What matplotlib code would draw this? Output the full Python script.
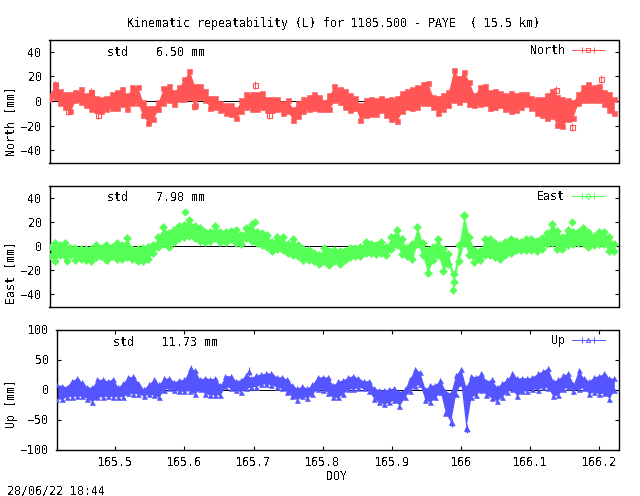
import numpy as np
import matplotlib
matplotlib.use("Agg")
import matplotlib.pyplot as plt

plt.rcParams['font.family'] = 'DejaVu Sans Mono'
plt.rcParams['font.size'] = 8.4
plt.rcParams['text.antialiased'] = False

W, H = 640, 496
DOY_START, DOY_END = 165.415, 166.228
N_SAMPLES = 110
tick_doy = [165.5, 165.6, 165.7, 165.8, 165.9, 166.0, 166.1, 166.2]
tick_doy_labels = ['165.5', '165.6', '165.7', '165.8', '165.9', '166', '166.1', '166.2']
north_ticks = [-40, -20, 0, 20, 40]
east_ticks = [-40, -20, 0, 20, 40]
up_ticks = [-100, -50, 0, 50, 100]

north_hi = [5,14,9,6,6,8,10,5,8,3,2,3,6,8,10,5,12,12,0,-5,-5,0,11,13,8,12,18,25,13,13,9,3,3,-1,-3,-3,-6,1,6,6,6,7,2,2,2,-1,1,-6,-1,2,4,6,4,
            0,5,13,10,9,5,3,-3,1,2,1,3,1,2,3,7,9,10,12,14,15,4,3,5,8,26,19,24,16,5,12,13,8,9,7,5,7,5,6,6,3,2,2,5,9,4,2,1,0,6,12,14,12,13,8,6,2]
north_lo = [1,3,-2,-5,-9,0,-1,-4,-7,-8,-9,-7,-6,-6,-3,-7,-2,-2,-12,-18,-15,-7,-2,0,-3,1,1,3,-4,3,0,-6,-5,-8,-10,-11,-14,-9,-5,-7,-7,-5,-8,-8,-7,-10,-9,-16,-13,-9,-7,-6,-7,
            -7,-7,0,-1,-5,-8,-6,-16,-12,-11,-11,-8,-12,-15,-17,-9,-5,-6,-5,-2,-2,-5,-10,-7,-4,0,-1,1,-3,-4,-3,-2,-6,-5,-4,-7,-9,-8,-5,-3,-6,-10,-12,-14,-13,-20,-21,-15,-14,-2,0,0,0,0,-3,-8,-10]
north_out_x = [165.423, 165.442, 165.4745, 165.485, 165.621, 165.709, 165.729, 166.139, 166.161, 166.203]
north_out_y = [13, -8, 7, -11, -4, 13, -11, 9, -21, 18]

east_hi = [0,3,1,3,-1,-1,-2,-2,-2,1,-1,1,0,3,1,7,-2,-2,-1,0,1,8,16,11,14,17,18,22,17,15,12,12,17,12,12,13,14,10,15,19,12,11,10,4,8,8,2,6,1,-2,-3,-5,-7,
           -1,-4,-3,-4,-4,-1,-1,0,4,2,1,4,0,8,14,6,-1,2,16,3,-3,0,6,-2,-6,-23,1,26,8,-3,-4,6,6,3,1,4,6,5,4,6,6,5,7,11,19,13,8,14,12,12,15,12,9,12,12,8,2]
east_lo = [-9,-13,-8,-9,-8,-12,-11,-12,-13,-10,-9,-12,-9,-11,-11,-10,-11,-13,-13,-11,-6,-1,1,-1,3,6,7,8,6,4,3,4,6,3,3,5,2,1,6,4,2,0,-1,-5,-3,-4,-6,-8,-9,-12,-12,-13,-15,
           -13,-16,-13,-15,-12,-10,-9,-9,-6,-6,-7,-6,-8,-3,0,-7,-9,-11,1,-8,-23,-12,-8,-21,-15,-30,-13,2,-8,-14,-12,-8,-8,-10,-11,-8,-6,-4,-4,-4,-4,-5,-3,1,2,-3,-3,0,1,2,2,-1,0,1,1,-5,-5]
east_out_x = [165.440, 165.498, 165.608, 165.709, 165.992, 166.007, 166.161]
east_out_y = [-12, -11, 28, 20, -36, 25, 20]

up_hi = [10,7,6,16,20,13,5,5,18,18,15,19,5,12,22,23,12,2,10,18,10,20,20,14,17,18,35,34,18,21,19,20,8,24,24,16,17,26,21,25,27,28,29,22,22,18,9,3,7,3,10,22,
         22,22,8,15,17,22,24,20,15,16,3,1,0,2,4,-3,2,18,36,30,2,8,9,17,-2,-5,25,36,5,24,22,28,15,18,5,12,18,28,20,21,20,22,28,32,37,15,18,25,28,10,33,20,15,22,24,28,20,20]
up_lo = [-17,-17,-13,-13,-12,-12,-16,-21,-14,-13,-12,-13,-13,-13,-7,-8,-8,-12,-9,-10,-14,-1,1,-2,-4,-4,-3,-8,0,-8,-10,-10,-10,5,1,-2,-5,1,3,4,8,8,7,3,1,-5,-12,-18,-12,-15,-8,0,
         -1,-6,-14,-14,-8,0,0,2,1,-3,-16,-22,-25,-22,-18,-28,-14,-3,5,8,-18,-22,-14,-5,-40,-55,-8,10,-65,-13,-10,-1,-10,-15,-20,-13,-5,0,-12,-4,-3,0,-1,3,2,-12,-10,0,3,-3,0,2,-8,-5,-8,-7,-16,-1]
up_out_x = [165.610, 165.694, 165.987, 166.009]
up_out_y = [34, 30, -55, -65]

std_text = ['std    6.50 mm', 'std    7.98 mm', 'std    11.73 mm']
names = ['North', 'East', 'Up']
colors = ['#ff5555', '#55ff55', '#5555ff']
markers = ['s', 'D', '^']


def make_axes(fig, left, top, right, bottom):
    return fig.add_axes([left / W, 1 - bottom / H, (right - left) / W, (bottom - top) / H])


fig = plt.figure(figsize=(W / 100, H / 100), dpi=100)
boxes = [(49.5, 39.5, 618.5, 162.5), (49.5, 185.5, 618.5, 306.5), (56.5, 329.5, 618.5, 449.5)]
series = [(north_hi, north_lo, north_out_x, north_out_y, north_ticks, 50),
          (east_hi, east_lo, east_out_x, east_out_y, east_ticks, 50),
          (up_hi, up_lo, up_out_x, up_out_y, up_ticks, 100)]
std_pos = [(107, 52), (107, 197.5), (113, 342)]
ylab_y = [121, 273, 404]
doy = np.linspace(DOY_START, DOY_END - 0.006, N_SAMPLES)

for k, (box, s) in enumerate(zip(boxes, series)):
    hi, lo, ox, oy, yt, lim = s
    ax = make_axes(fig, *box)
    c = colors[k]
    ax.axhline(0, color='black', lw=0.72, zorder=1, antialiased=False)
    pad = 0.01 * lim
    upper = np.array(hi, dtype=float) - pad
    lower = np.array(lo, dtype=float) + pad
    ax.fill_between(doy, lower, upper, color=c, lw=0, zorder=2)
    ax.plot(doy, upper, ls='none', marker=markers[k], ms=3.6, mfc=c, mec=c, mew=0.4, zorder=3)
    ax.plot(doy, lower, ls='none', marker=markers[k], ms=3.6, mfc=c, mec=c, mew=0.4, zorder=3)
    mfc = 'none' if k == 0 else c
    ms = 3.6 if k == 0 else 3.4
    # isolated points with their thin error bars
    base = np.array(oy, dtype=float)
    ax.vlines(ox, base - 0.07 * lim, base + 0.07 * lim, color=c, lw=0.72, zorder=2)
    ax.plot(ox, oy, ls='none', marker=markers[k], ms=ms, mfc=mfc, mec=c, mew=0.8, zorder=3)
    ax.errorbar([np.nan], [np.nan], xerr=[[1.0]], fmt='-' + markers[k], color=c, lw=0.72,
                ms=3.0, mfc='none', mew=0.7, capsize=2.5, capthick=0.72, label=names[k])
    ax.legend(loc='upper right', frameon=False, markerfirst=False, handlelength=2.8, handletextpad=0.6,
              borderaxespad=0.0, borderpad=0.35, labelspacing=0, numpoints=1,
              bbox_to_anchor=(0.9825, 1.0), fontsize=8.4)
    ax.set_xlim(DOY_START, DOY_END)
    ax.set_ylim(-lim, lim)
    ax.set_yticks(yt)
    ax.tick_params(axis='y', direction='in', left=True, right=True, length=3.2, width=0.8, pad=5.5)
    if k == 2:
        ax.set_xticks(tick_doy)
        ax.set_xticklabels(tick_doy_labels)
        ax.tick_params(axis='x', direction='in', top=True, bottom=True, length=3.2, width=0.8, pad=5)
    else:
        ax.set_xticks([])
    for sp in ax.spines.values():
        sp.set_linewidth(1.0)
    fig.text(std_pos[k][0] / W, 1 - std_pos[k][1] / H, std_text[k], ha='left', va='center')
    label = names[k] + ' [mm]'
    fig.text(11 / W, 1 - ylab_y[k] / H, label, rotation=90, ha='center', va='center')

fig.text(333.5 / W, 1 - 23.5 / H, 'Kinematic repeatability (L) for 1185.500 - PAYE  ( 15.5 km)', ha='center', va='center')
fig.text(337 / W, 1 - 476.5 / H, 'DOY', ha='center', va='center')
fig.text(7 / W, 1 - 490.5 / H, '28/06/22 18:44', ha='left', va='center')

fig.savefig('out.png', dpi=100)
